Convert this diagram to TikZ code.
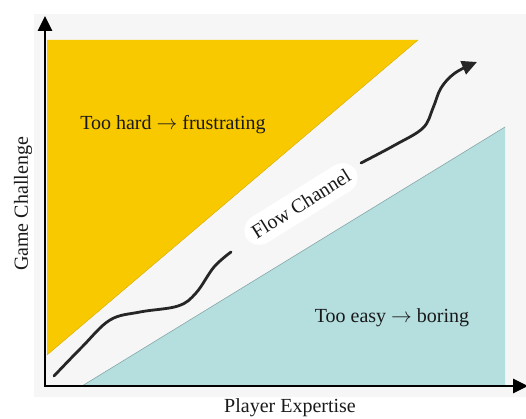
\documentclass[tikz,border=0pt]{standalone}
\usepackage{fontspec}
\setmainfont{Liberation Serif}
\usetikzlibrary{arrows.meta,positioning,shapes}
\definecolor{hardyellow}{HTML}{F9C900}
\definecolor{easyteal}{HTML}{B5DEDF}
\definecolor{panelgray}{HTML}{F6F6F6}

\begin{document}
\begin{tikzpicture}[x=1pt,y=-1pt,
    lbl/.style={font=\fontsize{20}{24}\selectfont,text=black!90},
    axis/.style={line width=2.8pt,{Triangle[length=15pt,width=14pt]}-{Triangle[length=15pt,width=14pt]}},
    flow/.style={line width=2.8pt,black!85,line cap=round}]
    \useasboundingbox (0,0) rectangle (526,419);
    \fill[panelgray] (34,14) rectangle (526,397);

    % regions
    \fill[hardyellow] (47,40) -- (418,40) -- (47,355) -- cycle;
    \draw[hardyellow!85!black,line width=0.4pt] (47,355) -- (418,40);
    \fill[easyteal] (82,386) -- (505,127) -- (505,386) -- cycle;
    \draw[easyteal!75!black,line width=0.6pt] (82,386) -- (505,127);

    % axes
    \coordinate (o) at (45,386);
    \coordinate (ytop) at (45,16);
    \coordinate (xend) at (528,386);
    \draw[axis] (ytop) -- (o) -- (xend);

    % labels
    \node[lbl] (hard) at (173,125) {Too hard $\rightarrow$ frustrating};
    \node[lbl] (easy) at (392,318) {Too easy $\rightarrow$ boring};
    \node[lbl,rotate=90] (ylab) at (23,204) {Game Challenge};
    \node[lbl] (xlab) at (290,408) {Player Expertise};
    \node[lbl,rotate=32,fill=white,rounded corners=16pt,inner sep=8pt] (chan) at (301,204) {Flow Channel};

    % flow path
    \draw[flow] plot[smooth,tension=0.6] coordinates {(54,376) (82,347) (110,320) (140,312) (178,306) (196,293) (214,267) (231,252)};
    \draw[flow,-{Triangle[length=15pt,width=14pt]}] plot[smooth,tension=0.6] coordinates {(361,163) (395,145) (423,128) (433,108) (441,88) (455,73) (477,62)};
\end{tikzpicture}
\end{document}
